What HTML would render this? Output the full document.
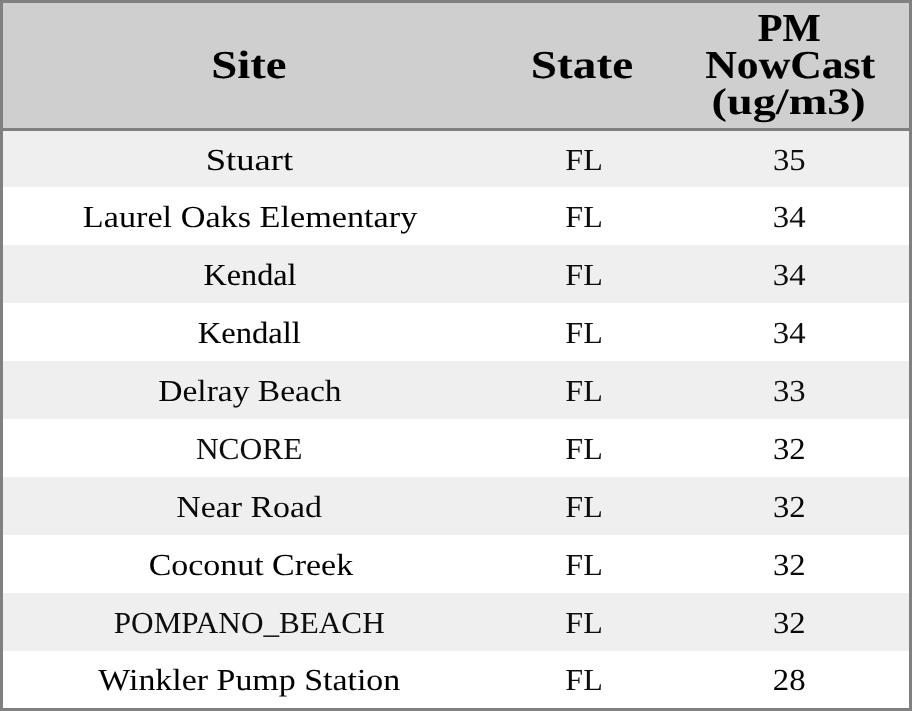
<!DOCTYPE html>
<html lang="en"><head><meta charset="utf-8"><title>PM NowCast by Site</title>
<style>
html,body{margin:0;padding:0;background:#fff;}
body{width:912px;height:711px;overflow:hidden;font-family:"Liberation Serif",serif;color:#000;}
#wrap{position:absolute;left:0;top:0;width:912px;height:711px;box-sizing:border-box;border:3px solid #808080;overflow:hidden;background:#fff;}
table{border-collapse:separate;border-spacing:0;table-layout:fixed;width:906px;margin:0;will-change:transform;}
th,td{padding:0;margin:0;text-align:center;vertical-align:middle;overflow:visible;white-space:nowrap;}
th{height:125px;background:#cfcfcf;border-bottom:3px solid #808080;font-family:"Liberation Serif",serif;font-weight:bold;font-size:39.7px;line-height:37px;}
td{font-family:"Liberation Serif",serif;font-size:30.5px;line-height:40px;color:#000;}
td span{-webkit-text-stroke:0px #000;}
td:nth-child(2){color:#000;}
td:nth-child(3){color:#000;}
th{color:#000;}
tbody tr:nth-child(odd) td{background:#efefef;}
tbody tr:nth-child(even) td{background:#fff;}
span{display:inline-block;white-space:nowrap;transform-origin:50% 50%;text-rendering:geometricPrecision;}
</style></head><body>
<div id="wrap">
<table>
<colgroup><col style="width:494px"><col style="width:172px"><col style="width:240px"></colgroup>
<thead><tr>
<th><span style="transform:translate(-1.00px,-0.40px) scale(1.1781,1.0000);-webkit-text-stroke:0.05px #000">Site</span></th>
<th><span style="transform:translate(-1.00px,0.20px) scale(1.1892,1.0000);-webkit-text-stroke:0.06px #000">State</span></th>
<th><span style="transform:translate(0.50px,0.00px) scale(1.0214,1.0000);-webkit-text-stroke:0.14px #000">PM</span><br><span style="transform:translate(1.00px,0.00px) scale(1.1004,1.0000);-webkit-text-stroke:0.17px #000">NowCast</span><br><span style="transform:translate(-0.50px,-0.50px) scale(1.1662,0.9400)">(ug/m3)</span></th>
</tr></thead>
<tbody>
<tr style="height:56px"><td><span style="transform:translate(-1.00px,1.00px) scale(1.2010,1.0000)">Stuart</span></td><td><span style="transform:translate(1.25px,1.00px) scale(1.0520,1.0000);color:#0e0e0e">FL</span></td><td><span style="transform:translate(0.00px,1.00px) scale(1.0720,1.0000);color:#0e0e0e">35</span></td></tr>
<tr style="height:58px"><td><span style="transform:translate(0.00px,1.00px) scale(1.1220,1.0000)">Laurel Oaks Elementary</span></td><td><span style="transform:translate(1.25px,1.00px) scale(1.0520,1.0000);color:#0e0e0e">FL</span></td><td><span style="transform:translate(0.00px,1.00px) scale(1.0740,1.0000);color:#0e0e0e">34</span></td></tr>
<tr style="height:58px"><td><span style="transform:translate(0.00px,1.00px) scale(1.0553,1.0000);-webkit-text-stroke:0.09px #000">Kendal</span></td><td><span style="transform:translate(1.25px,1.00px) scale(1.0520,1.0000);color:#0e0e0e">FL</span></td><td><span style="transform:translate(0.00px,1.00px) scale(1.0740,1.0000);color:#0e0e0e">34</span></td></tr>
<tr style="height:58px"><td><span style="transform:translate(-1.00px,1.00px) scale(1.0695,1.0000);-webkit-text-stroke:0.07px #000">Kendall</span></td><td><span style="transform:translate(1.25px,1.00px) scale(1.0520,1.0000);color:#0e0e0e">FL</span></td><td><span style="transform:translate(0.00px,1.00px) scale(1.0740,1.0000);color:#0e0e0e">34</span></td></tr>
<tr style="height:58px"><td><span style="transform:translate(-0.50px,1.00px) scale(1.0986,1.0000);color:#070707">Delray Beach</span></td><td><span style="transform:translate(1.25px,1.00px) scale(1.0520,1.0000);color:#0e0e0e">FL</span></td><td><span style="transform:translate(0.00px,1.00px) scale(1.0720,1.0000);color:#0e0e0e">33</span></td></tr>
<tr style="height:58px"><td><span style="transform:translate(-0.50px,1.00px) scale(1.0310,1.0000);color:#0e0e0e">NCORE</span></td><td><span style="transform:translate(1.25px,1.00px) scale(1.0520,1.0000);color:#0e0e0e">FL</span></td><td><span style="transform:translate(0.00px,1.00px) scale(1.0700,1.0000);color:#080808">32</span></td></tr>
<tr style="height:58px"><td><span style="transform:translate(-0.50px,1.00px) scale(1.1111,1.0000);color:#080808">Near Road</span></td><td><span style="transform:translate(1.25px,1.00px) scale(1.0520,1.0000);color:#0e0e0e">FL</span></td><td><span style="transform:translate(0.00px,1.00px) scale(1.0710,1.0000);color:#080808">32</span></td></tr>
<tr style="height:58px"><td><span style="transform:translate(1.00px,1.00px) scale(1.1121,1.0000)">Coconut Creek</span></td><td><span style="transform:translate(1.25px,1.00px) scale(1.0520,1.0000);color:#0e0e0e">FL</span></td><td><span style="transform:translate(0.00px,1.00px) scale(1.0700,1.0000);color:#080808">32</span></td></tr>
<tr style="height:58px"><td><span style="transform:translate(-1.25px,1.00px) scale(1.0224,1.0000);color:#0e0e0e">POMPANO_BEACH</span></td><td><span style="transform:translate(1.25px,1.00px) scale(1.0520,1.0000);color:#0e0e0e">FL</span></td><td><span style="transform:translate(0.00px,1.00px) scale(1.0710,1.0000);color:#080808">32</span></td></tr>
<tr style="height:57px"><td><span style="transform:translate(-0.50px,0.00px) scale(1.1117,1.0000);-webkit-text-stroke:0.03px #000">Winkler Pump Station</span></td><td><span style="transform:translate(1.25px,0.00px) scale(1.0520,1.0000);color:#0e0e0e">FL</span></td><td><span style="transform:translate(0.00px,0.00px) scale(1.0750,1.0000);color:#050505">28</span></td></tr>
</tbody>
</table>
</div>
</body></html>
